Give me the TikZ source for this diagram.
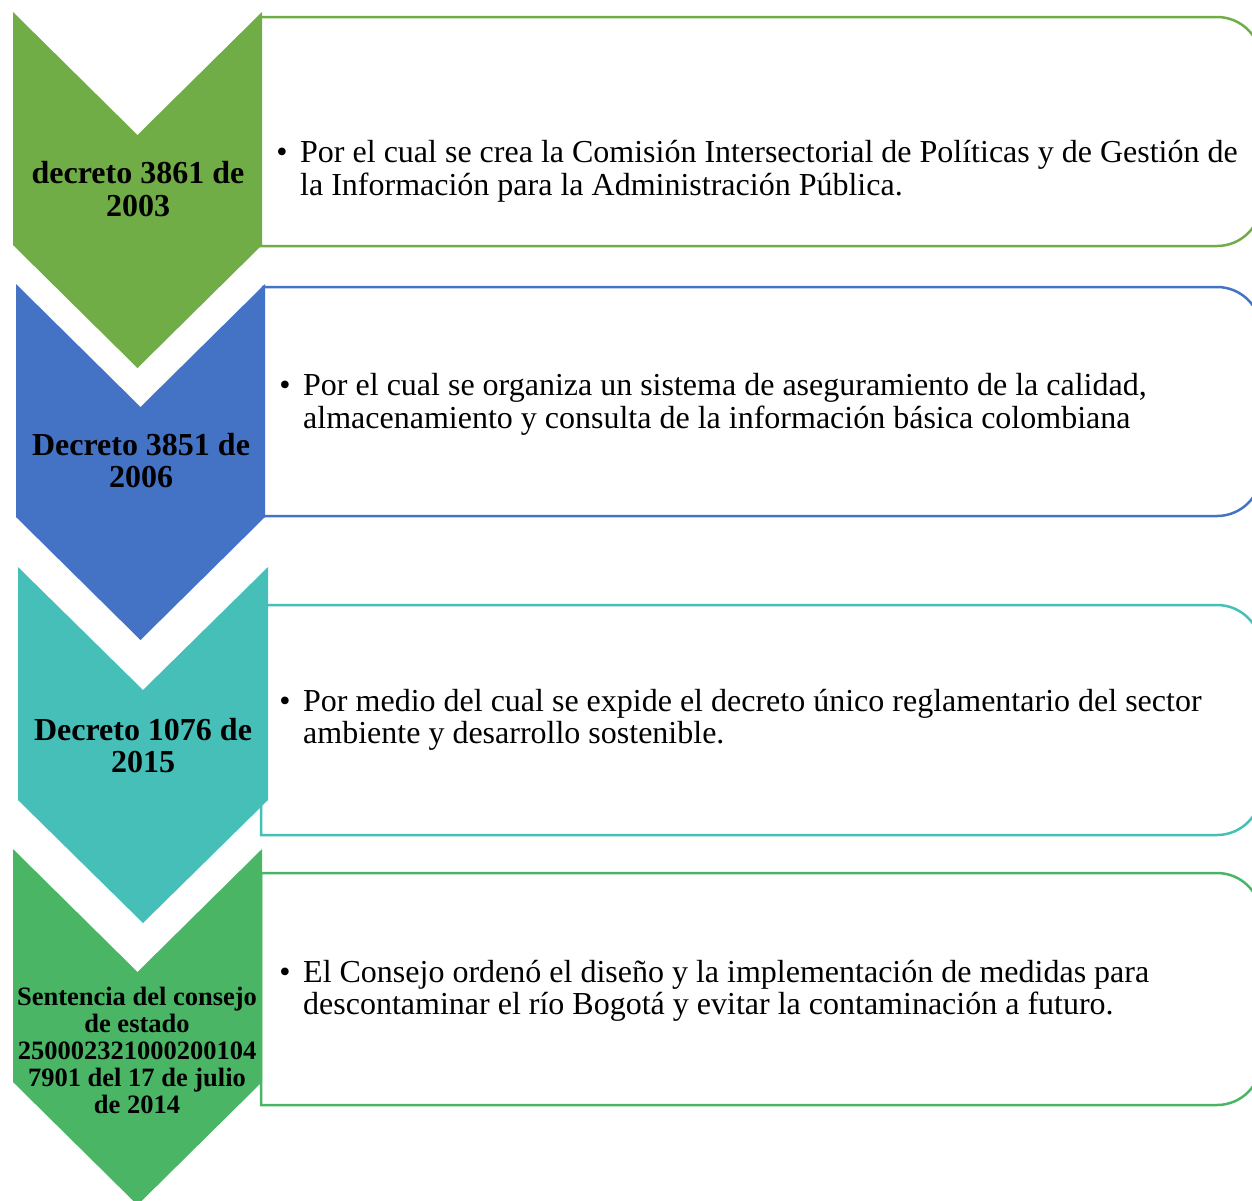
\documentclass[tikz,border=0pt]{standalone}
\usepackage{fontspec}
\setmainfont{Liberation Serif}
\definecolor{cA}{HTML}{70AD47}
\definecolor{cB}{HTML}{4472C4}
\definecolor{cC}{HTML}{46BFB9}
\definecolor{cD}{HTML}{49B565}
\newcommand\infobox[4]{%
  \draw[#1, line width=2.5pt, fill=white] (#2,#3) -- (1217,#3)
    arc[start angle=-90,end angle=0,radius=44] -- (1261,{#4-44})
    arc[start angle=0,end angle=90,radius=44] -- (#2,#4) -- cycle;}
\newcommand\chevfill[4]{%
  \fill[#1] (#2,#4) -- ({(#2+#3)/2},{#4+123}) -- (#3,#4) -- (#3,{#4+233})
    -- ({(#2+#3)/2},{#4+356}) -- (#2,{#4+233}) -- cycle;}
\begin{document}
\begin{tikzpicture}[x=1pt,y=-1pt,
  lbl/.style={font=\fontsize{32}{33}\selectfont\bfseries, inner sep=0, anchor=base},
  lbls/.style={font=\fontsize{26.5}{27}\selectfont\bfseries, inner sep=0, anchor=base},
  txt/.style={font=\fontsize{32}{33}\selectfont, inner sep=0, anchor=base west},
  bul/.style={font=\fontsize{32}{33}\selectfont, inner sep=0, anchor=base}]
\useasboundingbox (0,0) rectangle (1252,1200);
\clip (0,0) rectangle (1252,1200);
% boxes and chevrons
\infobox{cA}{259}{17}{246}
\chevfill{cA}{13}{262}{12}
\infobox{cB}{263}{287}{516}
\chevfill{cB}{16}{265}{284}
\infobox{cC}{261}{605}{835}
\chevfill{cC}{18}{268}{567}
\infobox{cD}{261}{873}{1105}
\chevfill{cD}{13}{262}{849}
% chevron labels
\node[lbl] (c1a) at (138,183) {decreto 3861 de};
\node[lbl] (c1b) at (138,216) {2003};
\node[lbl] (c2a) at (141,455) {Decreto 3851 de};
\node[lbl] (c2b) at (141,487) {2006};
\node[lbl] (c3a) at (143,740) {Decreto 1076 de};
\node[lbl] (c3b) at (143,772) {2015};
\node[lbls] (c4a) at (137,1005) {Sentencia del consejo};
\node[lbls] (c4b) at (137,1032) {de estado};
\node[lbls] (c4c) at (137,1059) {250002321000200104};
\node[lbls] (c4d) at (137,1086) {7901 del 17 de julio};
\node[lbls] (c4e) at (137,1113) {de 2014};
% box texts
\node[bul] (b1) at (282,162) {\textbullet};
\node[txt] (t1a) at (300,162) {Por el cual se crea la Comisión Intersectorial de Políticas y de Gestión de};
\node[txt] (t1b) at (300,195) {la Información para la Administración Pública.};
\node[bul] (b2) at (285,395) {\textbullet};
\node[txt] (t2a) at (303,395) {Por el cual se organiza un sistema de aseguramiento de la calidad,};
\node[txt] (t2b) at (303,428) {almacenamiento y consulta de la información básica colombiana};
\node[bul] (b3) at (285,711) {\textbullet};
\node[txt] (t3a) at (303,711) {Por medio del cual se expide el decreto único reglamentario del sector};
\node[txt] (t3b) at (303,743) {ambiente y desarrollo sostenible.};
\node[bul] (b4) at (285,982) {\textbullet};
\node[txt] (t4a) at (303,982) {El Consejo ordenó el diseño y la implementación de medidas para};
\node[txt] (t4b) at (303,1014) {descontaminar el río Bogotá y evitar la contaminación a futuro.};
\end{tikzpicture}
\end{document}
